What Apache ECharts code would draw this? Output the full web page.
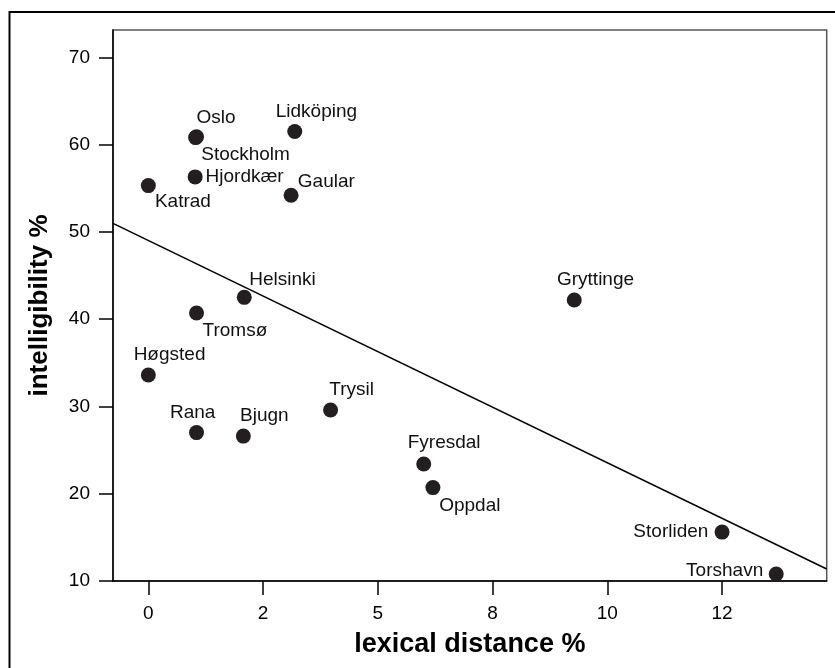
<!DOCTYPE html>
<html>
<head>
<meta charset="utf-8">
<script src="https://cdn.jsdelivr.net/npm/echarts@6/dist/echarts.min.js"></script>
<style>html,body{margin:0;padding:0;background:#fff}#c{width:835px;height:668px}</style>
</head>
<body>
<div id="c"></div>
<script>
// ---- data ----
const places = ['Oslo','Stockholm','Lidköping','Hjordkær','Katrad','Gaular','Helsinki','Tromsø','Høgsted','Rana','Bjugn','Trysil','Fyresdal','Oppdal','Gryttinge','Storliden','Torshavn'];
const lexicalDistance = [1.05, 1.03, 3.19, 1.02, 0.0, 3.11, 2.09, 1.05, 0.0, 1.05, 2.07, 3.97, 6.0, 6.2, 9.28, 12.5, 13.68];
const intelligibility = [60.9, 60.8, 61.5, 56.3, 55.3, 54.2, 42.5, 40.7, 33.6, 27.0, 26.6, 29.6, 23.4, 20.7, 42.2, 15.6, 10.8];
const fitLine = [[-0.77, 50.97], [14.78, 11.37]];
const xTickValues = [0, 2.5, 5, 7.5, 10, 12.5];
const xTickLabels = ['0', '2', '5', '8', '10', '12'];
const yTickValues = [10, 20, 30, 40, 50, 60, 70];
const yTickLabels = ['10', '20', '30', '40', '50', '60', '70'];

// ---- label placement (style): offset of text anchor from point centre ----
const labelPlace = {
  'Oslo': [0, -19, 'left'],
  'Stockholm': [5.6, 17.3, 'left'],
  'Lidköping': [-19, -19.4, 'left'],
  'Hjordkær': [10.4, 0, 'left'],
  'Katrad': [6.6, 16.6, 'left'],
  'Gaular': [6.7, -13.3, 'left'],
  'Helsinki': [5, -17.7, 'left'],
  'Tromsø': [6, 17.4, 'left'],
  'Høgsted': [-14.7, -20, 'left'],
  'Rana': [-26.6, -20.3, 'left'],
  'Bjugn': [-3.3, -20, 'left'],
  'Trysil': [-1.3, -19.7, 'left'],
  'Fyresdal': [-16, -21, 'left'],
  'Oppdal': [6.3, 17.7, 'left'],
  'Gryttinge': [-17.3, -20, 'left'],
  'Storliden': [-13.7, -0.6, 'right'],
  'Torshavn': [-13, -3.7, 'right']
};

const SYM = 15;
const FONT = '"Liberation Sans", Arial, Helvetica, sans-serif';
const points = places.map((n, i) => {
  const p = labelPlace[n];
  return {
    name: n,
    value: [lexicalDistance[i], intelligibility[i]],
    label: { show: true, position: [SYM / 2 + p[0], SYM / 2 + p[1]], align: p[2], verticalAlign: 'middle', formatter: n }
  };
});

const chart = echarts.init(document.getElementById('c'), null, { renderer: 'canvas' });
chart.setOption({
  animation: false,
  backgroundColor: '#fff',
  graphic: [{
    type: 'rect', silent: true, z: 100,
    shape: { x: 9.5, y: 12, width: 900, height: 700 },
    style: { fill: 'none', stroke: '#000', lineWidth: 2 }
  }],
  grid: { left: 113, top: 30, right: 8.3, bottom: 87, show: true, borderColor: '#555', borderWidth: 1.5, backgroundColor: 'transparent' },
  xAxis: {
    type: 'value', min: -0.77, max: 14.78,
    name: 'lexical distance %', nameLocation: 'middle', nameGap: 50,
    nameTextStyle: { fontFamily: FONT, fontWeight: 'bold', fontSize: 27, color: '#000' },
    axisLine: { show: true, onZero: false, lineStyle: { color: '#000', width: 1.5 } },
    axisTick: { show: true, length: 14, customValues: xTickValues, lineStyle: { color: '#000', width: 1.5 } },
    axisLabel: { customValues: xTickValues, margin: 23, fontFamily: FONT, fontSize: 19, color: '#000',
      formatter: v => xTickLabels[xTickValues.indexOf(v)] },
    splitLine: { show: false }
  },
  yAxis: {
    type: 'value', min: 10, max: 73.13,
    name: 'intelligibility %', nameLocation: 'middle', nameGap: 60, nameRotate: 90,
    nameTextStyle: { fontFamily: FONT, fontWeight: 'bold', fontSize: 26, color: '#000' },
    axisLine: { show: true, onZero: false, lineStyle: { color: '#000', width: 1.5 } },
    axisTick: { show: true, length: 14, customValues: yTickValues, lineStyle: { color: '#000', width: 1.5 } },
    axisLabel: { customValues: yTickValues, margin: 23, fontFamily: FONT, fontSize: 19, color: '#000',
      formatter: v => yTickLabels[yTickValues.indexOf(v)] },
    splitLine: { show: false }
  },
  series: [
    {
      type: 'line', data: fitLine, symbol: 'none', silent: true,
      lineStyle: { color: '#000', width: 1.5 }, z: 1
    },
    {
      type: 'scatter', data: points, symbolSize: SYM, z: 2,
      itemStyle: { color: '#231f20', opacity: 1 },
      label: { fontFamily: FONT, fontSize: 19, color: '#111' },
      labelLayout: { hideOverlap: false }
    }
  ]
});
</script>
</body>
</html>
